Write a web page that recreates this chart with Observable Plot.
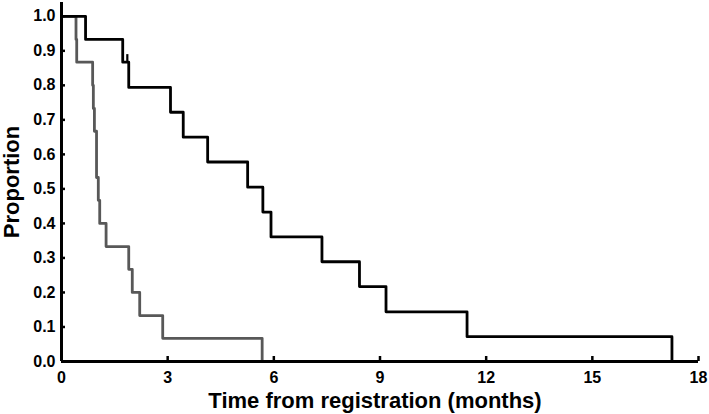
<!DOCTYPE html>
<html><head><meta charset="utf-8">
<script src="https://cdn.jsdelivr.net/npm/d3@7"></script>
<script src="https://cdn.jsdelivr.net/npm/@observablehq/plot@0.6"></script>
<style>
body{margin:0;background:#fff}
</style>
</head><body><div id="chart"></div>
<script>
// Group 1 (black) Kaplan–Meier steps
const blackTimes = [0, 0.68, 1.73, 1.90, 3.08, 3.44, 4.13, 5.26, 5.69, 5.92, 7.36, 8.42, 9.17, 11.46, 17.25];
const blackSurv  = [1, 0.933, 0.867, 0.794, 0.722, 0.650, 0.578, 0.505, 0.433, 0.361, 0.289, 0.217, 0.144, 0.072, 0];
const blackCensorTimes = [1.86];
const blackCensorSurv  = [0.867];
// Group 2 (gray) Kaplan–Meier steps
const grayTimes = [0, 0.41, 0.43, 0.88, 0.90, 0.93, 0.99, 0.99, 1.04, 1.08, 1.26, 1.90, 2.00, 2.21, 2.86, 5.67];
const graySurv  = [1, 0.933, 0.867, 0.800, 0.733, 0.667, 0.600, 0.533, 0.467, 0.400, 0.333, 0.267, 0.200, 0.133, 0.067, 0];
// Axis ticks and labels
const xTicks = [0, 3, 6, 9, 12, 15, 18];
const yTicks = [0, 0.1, 0.2, 0.3, 0.4, 0.5, 0.6, 0.7, 0.8, 0.9, 1.0];
const xLabel = "Time from registration (months)";
const yLabel = "Proportion";

const black = blackTimes.map((t, i) => ({t, s: blackSurv[i]}));
const gray = grayTimes.map((t, i) => ({t, s: graySurv[i]}));
const censor = blackCensorTimes.map((t, i) => ({t, s: blackCensorSurv[i]}));

const W = 709, H = 414, mL = 61, mR = 11, mT = 2, mB = 53;
const plotW = W - mL - mR, plotH = H - mT - mB;

const chart = Plot.plot({
  width: W, height: H,
  marginLeft: mL, marginRight: mR, marginTop: mT, marginBottom: mB,
  style: {fontFamily: "'Liberation Sans', Arial, sans-serif", fontWeight: "bold", background: "#fff", color: "#000"},
  x: {domain: [0, 18]},
  y: {domain: [0, 1.04]},
  marks: [
    Plot.axisY({ticks: yTicks, tickSize: 0, tickPadding: 6, tickFormat: d3.format(".1f"), label: null, fontSize: 16, fontWeight: "bold"}),
    Plot.axisX({ticks: xTicks, tickSize: 0, tickPadding: 10, label: null, fontSize: 16, fontWeight: "bold"}),
    Plot.tickX(xTicks.filter(d => d > 0), {x: d => d, insetTop: plotH - 5, stroke: "#000", strokeWidth: 2.5}),
    Plot.tickY(yTicks, {y: d => d, insetRight: plotW - 4, stroke: "#000", strokeWidth: 2.5}),
    Plot.line(gray, {x: "t", y: "s", curve: "step-after", stroke: "#585858", strokeWidth: 2.8}),
    Plot.line(black, {x: "t", y: "s", curve: "step-after", stroke: "#000", strokeWidth: 2.8}),
    Plot.ruleX(censor, {x: "t", y1: "s", y2: d => d.s + 0.022, stroke: "#000", strokeWidth: 2.2}),
    Plot.ruleX([0], {stroke: "#000", strokeWidth: 3}),
    Plot.ruleY([0], {stroke: "#000", strokeWidth: 3}),
    Plot.text([yLabel], {text: d => d, frameAnchor: "left", dx: -50, rotate: -90, textAnchor: "middle", lineAnchor: "middle", fontSize: 22, fontWeight: "bold", fill: "#000"}),
    Plot.text([xLabel], {text: d => d, frameAnchor: "bottom", dx: -5, dy: 39, textAnchor: "middle", lineAnchor: "middle", fontSize: 22, fontWeight: "bold", fill: "#000"})
  ]
});
document.getElementById("chart").appendChild(chart);
</script>
</body></html>
